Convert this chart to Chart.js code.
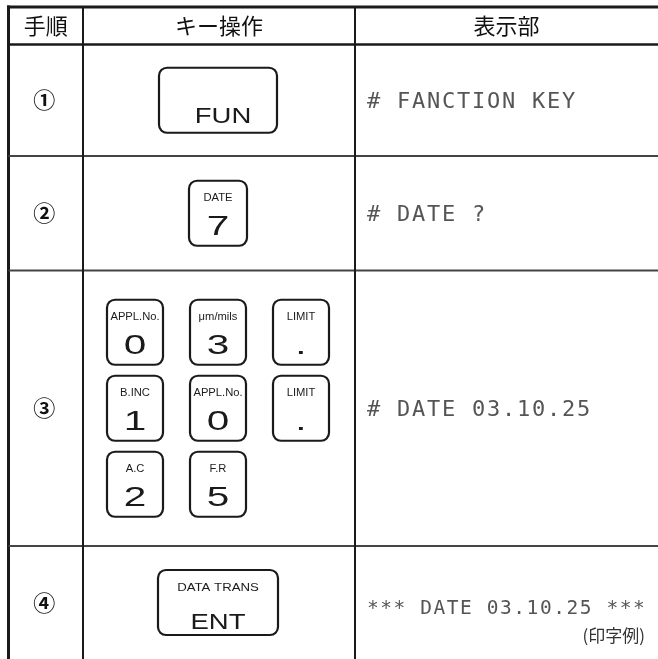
<!DOCTYPE html>
<html><head><meta charset="utf-8">
<script src="https://cdn.jsdelivr.net/npm/chart.js@4.4.0/dist/chart.umd.min.js"></script>
<style>html,body{margin:0;padding:0;background:#fff;overflow:hidden}#wrap{width:658px;height:659px;position:relative}</style>
</head><body><div id="wrap"><canvas id="c"></canvas></div>
<script>
// ---- content ----
const headers = ['手順', 'キー操作', '表示部'];
const steps = ['①', '②', '③', '④'];
const keyLabels = [[''], ['DATE'], ['APPL.No.', 'μm/mils', 'LIMIT', 'B.INC', 'APPL.No.', 'LIMIT', 'A.C', 'F.R'], ['DATA TRANS']];
const keyFaces = [['FUN'], ['7'], ['0', '3', '.', '1', '0', '.', '2', '5'], ['ENT']];
const displays = ['# FANCTION KEY', '# DATE ?', '# DATE 03.10.25', '*** DATE 03.10.25 ***'];
const note = '(印字例)';

// ---- layout (scale units) ----
const colEdges = [8.5, 83, 355, 658];
const rowEdges = [7, 44.5, 156, 270.5, 546, 659];
const keyBlocks = [
  { cols: 1, w: 118, h: 65, px: 0, py: 0 },
  { cols: 1, w: 58, h: 65, px: 0, py: 0 },
  { cols: 3, w: 56, h: 65, px: 83, py: 76 },
  { cols: 1, w: 120, h: 65, px: 0, py: 0 }
];
const displayFont = [22, 22, 22, 19.5];
const displayDy = [0, 0, 0, 4];

const tablePlugin = {
  id: 'keyTable',
  afterDraw(chart) {
    const ctx = chart.ctx;
    const X = v => chart.scales.x.getPixelForValue(v);
    const Y = v => chart.scales.y.getPixelForValue(v);
    const INK = '#1a1a1a';

    function line(x0, y0, x1, y1, w, c) {
      ctx.save(); ctx.beginPath(); ctx.moveTo(X(x0), Y(y0)); ctx.lineTo(X(x1), Y(y1));
      ctx.lineWidth = w; ctx.strokeStyle = c; ctx.stroke(); ctx.restore();
    }
    function txt(s, x, y, font, align, sx, color, ls, maxW) {
      ctx.save(); ctx.font = font; ctx.fillStyle = color || INK;
      ctx.textAlign = align || 'center'; ctx.textBaseline = 'alphabetic';
      if (ls) ctx.letterSpacing = ls;
      ctx.translate(X(x), Y(y)); ctx.scale(sx || 1, 1);
      if (maxW) ctx.fillText(s, 0, 0, maxW / (sx || 1)); else ctx.fillText(s, 0, 0);
      ctx.restore();
    }

    // grid lines
    const top = rowEdges[0], bottom = rowEdges[rowEdges.length - 1];
    const left = colEdges[0], right = colEdges[colEdges.length - 1];
    line(left - 1.5, top, right, top, 3, INK);
    line(left, top - 1.5, left, bottom, 3, INK);
    line(left, rowEdges[1], right, rowEdges[1], 2.6, INK);
    for (let i = 2; i < rowEdges.length - 1; i++) line(left, rowEdges[i], right, rowEdges[i], 1.8, '#444');
    for (let i = 1; i < colEdges.length - 1; i++) line(colEdges[i], top, colEdges[i], bottom, 2, INK);

    // headers
    headers.forEach((h, i) => {
      const cx = (colEdges[i] + colEdges[i + 1]) / 2;
      const cy = (rowEdges[0] + rowEdges[1]) / 2;
      txt(h, cx, cy + 8, '400 22px "Noto Sans CJK JP"', 'center', 1, '#111');
    });

    steps.forEach((s, r) => {
      const cy = (rowEdges[r + 1] + rowEdges[r + 2]) / 2;
      // step number
      txt(s, (colEdges[0] + colEdges[1]) / 2 - 1.5, cy + 8, '700 22px "Noto Sans CJK JP"', 'center', 1, '#111');

      // keys
      const b = keyBlocks[r];
      const n = keyFaces[r].length;
      const nRows = Math.ceil(n / b.cols);
      const gw = (b.cols - 1) * b.px + b.w, gh = (nRows - 1) * b.py + b.h;
      const cx = (colEdges[1] + colEdges[2]) / 2 - 1;
      const gx = cx - gw / 2, gy = cy - gh / 2;
      keyFaces[r].forEach((face, k) => {
        const kx = gx + (k % b.cols) * b.px, ky = gy + Math.floor(k / b.cols) * b.py;
        const x0 = X(kx), y0 = Y(ky), x1 = X(kx + b.w), y1 = Y(ky + b.h);
        ctx.save(); ctx.beginPath(); ctx.roundRect(x0, y0, x1 - x0, y1 - y0, 8);
        ctx.lineWidth = 2.2; ctx.strokeStyle = INK; ctx.stroke(); ctx.restore();
        const label = keyLabels[r][k];
        const kcx = kx + b.w / 2;
        if (label) {
          const wide = label.length > 8;
          txt(label, kcx, ky + 20.5, '400 10px "Liberation Sans"', 'center', wide ? 1.32 : 1.12, INK, null, b.w - 4);
        }
        if (face.length > 1) {
          txt(face, kcx + (label ? 0 : 5), ky + b.h - (label ? 6.5 : 9.5), '400 22px "Liberation Sans"', 'center', 1.25, INK);
        } else {
          txt(face, kcx, ky + b.h - 10.5, '300 27px "Liberation Sans"', 'center', 1.5, INK);
        }
      });

      // display text
      const fs = displayFont[r];
      txt(displays[r], colEdges[2] + 12, cy + displayDy[r] + fs * 0.365, '400 ' + fs + 'px "DejaVu Sans Mono"', 'left', 1, '#555', (fs * 0.08) + 'px');
    });

    // note
    txt(note, 645, 642, '400 17px "Noto Sans CJK JP"', 'right', 1, '#333');
  }
};

new Chart(document.getElementById('c'), {
  type: 'scatter',
  data: { datasets: [{ data: [], pointRadius: 0 }] },
  options: {
    responsive: true, maintainAspectRatio: false, animation: false,
    layout: { padding: 0 },
    plugins: { legend: { display: false }, tooltip: { enabled: false } },
    scales: {
      x: { type: 'linear', min: 0, max: 658, display: false },
      y: { type: 'linear', min: 0, max: 659, reverse: true, display: false }
    }
  },
  plugins: [tablePlugin]
});
</script>
</body></html>
